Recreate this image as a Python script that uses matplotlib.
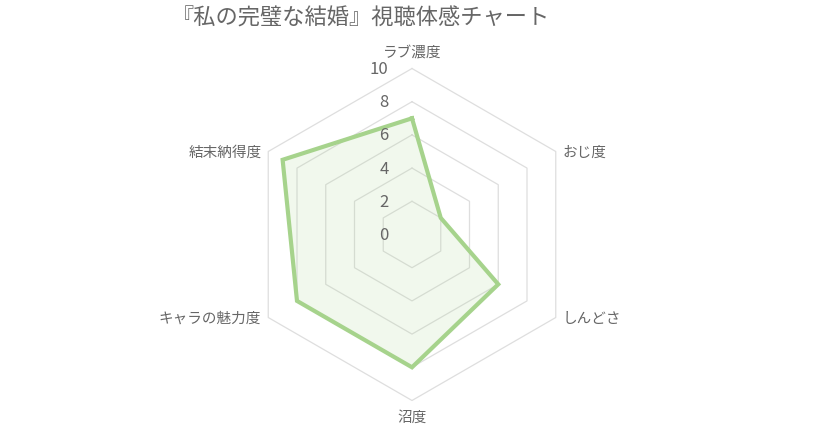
import numpy as np
import matplotlib
matplotlib.use("Agg")
import matplotlib.pyplot as plt

plt.rcParams['font.family'] = ['Noto Sans CJK JP', 'DejaVu Sans']

title = "『私の完璧な結婚』視聴体感チャート"
labels = ["ラブ濃度", "おじ度", "しんどさ", "沼度", "キャラの魅力度", "結末納得度"]
values = [7, 2, 6, 8, 8, 9]
ticks = [0, 2, 4, 6, 8, 10]

W, H = 823, 431
cx, cy = 412, 235.5      # centre in pixels (from top)
ppu = 16.6               # pixels per unit

fig = plt.figure(figsize=(W / 100, H / 100), dpi=100)
ax = fig.add_axes([0, 0, 1, 1])
ax.set_xlim(-cx / ppu, (W - cx) / ppu)
ax.set_ylim(-(H - cy) / ppu, cy / ppu)
ax.axis('off')

n = len(labels)
ang = np.deg2rad(90 - np.arange(n) * 360 / n)
ux, uy = np.cos(ang), np.sin(ang)

grid_c = '#dedede'
txt_c = '#666666'

# hexagon rings
for r in ticks[1:]:
    ax.plot(np.append(ux, ux[0]) * r, np.append(uy, uy[0]) * r, color=grid_c, lw=0.9, zorder=1)

# data polygon
v = np.array(values, dtype=float)
px, py = v * ux, v * uy
ax.fill(px, py, color='#a6d38c', alpha=0.15, lw=0, zorder=2)
ax.plot(np.append(px, px[0]), np.append(py, py[0]), color='#a6d38c', lw=3,
        solid_joinstyle='miter', zorder=3)

# tick labels
for t in ticks:
    ax.annotate(str(t), (0, t), xytext=(-17, 0), textcoords='offset points',
                ha='right', va='center', fontsize=12, color=txt_c, zorder=4)

# axis labels
for i, lab in enumerate(labels):
    x, y = ux[i] * 10, uy[i] * 10
    if abs(ux[i]) < 0.01:
        off = (0, 7) if uy[i] > 0 else (0, -7)
        ha = 'center'
        va = 'bottom' if uy[i] > 0 else 'top'
    else:
        off = (5, 0) if ux[i] > 0 else (-5, 0)
        ha = 'left' if ux[i] > 0 else 'right'
        va = 'center'
    ax.annotate(lab, (x, y), xytext=off, textcoords='offset points',
                ha=ha, va=va, fontsize=10.5, color=txt_c)

fig.text(361 / W, 1 - 18 / H, title, ha='center', va='center', fontsize=16, color=txt_c)

fig.savefig('out.png', dpi=100)
